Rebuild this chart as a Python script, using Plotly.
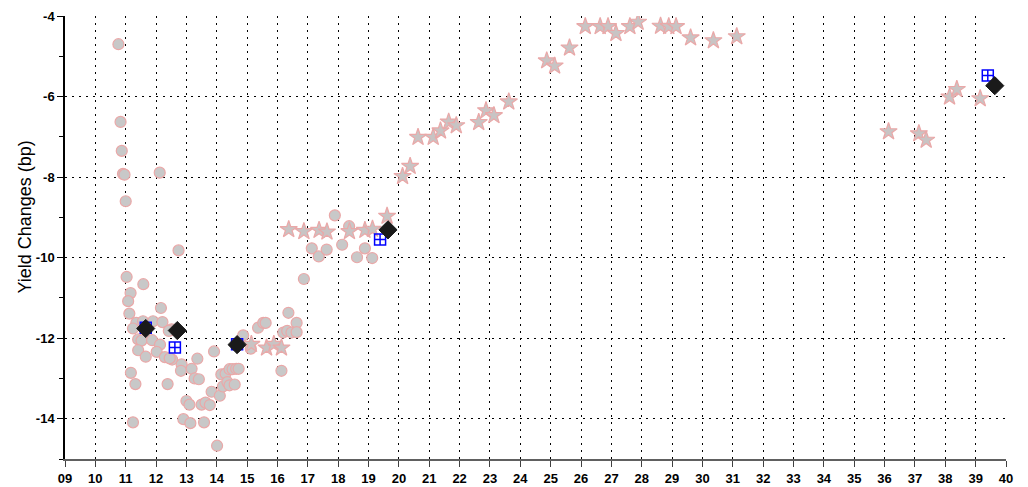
import plotly.graph_objects as go

# ---- data ----
circle_x = [10.76, 10.83, 10.87, 10.91, 10.96, 12.12, 11.00, 11.03, 11.58, 11.16,
            11.08, 12.16, 11.12, 11.35, 11.24, 11.57, 11.90, 12.21, 12.51, 12.42,
            11.41, 11.52, 11.87, 12.13, 11.41, 11.66, 12.02, 12.29, 12.53, 12.45,
            12.84, 13.17, 12.82, 13.36, 13.91, 11.17, 11.32, 12.38, 13.27, 13.41,
            13.00, 13.10, 13.50, 13.63, 13.77, 13.83, 14.10, 14.15, 14.29, 14.42,
            14.52, 14.64, 14.72, 14.20, 14.35, 14.42, 14.59, 11.24, 12.90, 13.13,
            13.58, 14.01, 15.36, 15.53, 15.12, 14.87, 15.61, 16.87, 16.36, 16.63,
            16.19, 16.32, 16.46, 16.63, 16.13, 17.89, 18.36, 17.13, 17.36, 17.62,
            18.13, 18.88, 18.62, 19.12, 12.74]
circle_y = [-4.70, -6.63, -7.35, -7.92, -7.94, -7.89, -8.60, -10.48, -10.66, -10.88,
            -11.08, -11.25, -11.39, -11.62, -11.76, -11.58, -11.58, -11.60, -11.78, -11.82,
            -12.03, -12.06, -12.05, -12.16, -12.30, -12.46, -12.34, -12.47, -12.53, -12.50,
            -12.65, -12.76, -12.81, -12.51, -12.33, -12.86, -13.14, -13.14, -13.00, -13.02,
            -13.56, -13.65, -13.65, -13.60, -13.66, -13.33, -13.43, -12.90, -12.88, -12.77,
            -12.77, -12.76, -12.76, -13.20, -13.09, -13.17, -13.15, -14.09, -14.01, -14.11,
            -14.09, -14.67, -11.74, -11.62, -12.26, -11.93, -11.62, -10.53, -11.37, -11.62,
            -11.86, -11.82, -11.86, -11.85, -12.81, -8.95, -9.22, -9.77, -9.97, -9.80,
            -9.68, -9.77, -9.99, -10.01, -9.82]

star_x = [15.14, 15.64, 15.88, 16.13,
          16.37, 16.87, 17.37, 17.63, 18.37, 18.88, 19.13, 19.61,
          20.12, 20.37, 20.63, 21.13, 21.37, 21.64, 21.89, 22.63, 22.87, 23.13, 23.62,
          24.87, 25.13, 25.62, 26.14, 26.63, 26.89, 27.15, 27.61, 27.88, 28.62, 28.89,
          29.13, 29.61, 30.36, 31.13,
          36.13, 37.13, 37.37, 38.14, 38.38, 39.15]
star_y = [-12.15, -12.24, -12.15, -12.24,
          -9.30, -9.35, -9.32, -9.36, -9.35, -9.32, -9.29, -8.97,
          -7.98, -7.73, -7.01, -7.01, -6.85, -6.63, -6.72, -6.64, -6.35, -6.47, -6.13,
          -5.11, -5.24, -4.79, -4.26, -4.26, -4.26, -4.43, -4.26, -4.15, -4.25, -4.26,
          -4.26, -4.54, -4.61, -4.51,
          -6.87, -6.92, -7.08, -6.01, -5.82, -6.05]

hash_x = [11.66, 12.62, 14.67, 19.38, 39.40]
hash_y = [-11.74, -12.23, -12.15, -9.55, -5.48]

diamond_x = [11.66, 12.70, 14.67, 19.64, 39.63]
diamond_y = [-11.76, -11.81, -12.16, -9.31, -5.73]

x_ticks = list(range(9, 41))
x_ticktext = ["%02d" % v for v in x_ticks]
y_ticks = [-14, -12, -10, -8, -6, -4]
y_title = "Yield Changes (bp)"

fig = go.Figure()
fig.add_trace(go.Scatter(
    x=circle_x, y=circle_y, mode="markers", name="circles",
    marker=dict(symbol="circle", size=11, color="#c8c8c8",
                line=dict(color="#eaa8a8", width=1.2))))
fig.add_trace(go.Scatter(
    x=star_x, y=star_y, mode="markers", name="stars",
    marker=dict(symbol="star", size=13, color="#c8c4c4",
                line=dict(color="#eaa8a8", width=1.2))))
fig.add_trace(go.Scatter(
    x=hash_x, y=hash_y, mode="markers", name="hash",
    marker=dict(symbol="square-cross-open", size=11, color="#0000ff",
                line=dict(color="#0000ff", width=1.5))))
fig.add_trace(go.Scatter(
    x=diamond_x, y=diamond_y, mode="markers", name="diamonds",
    marker=dict(symbol="diamond", size=14, color="#1a1a1a",
                line=dict(color="#1a1a1a", width=1))))

fig.update_layout(
    width=1020, height=479,
    margin=dict(l=57, r=22, t=8, b=28, autoexpand=False),
    paper_bgcolor="white", plot_bgcolor="white",
    showlegend=False,
    font=dict(family="Arial, Liberation Sans, sans-serif", color="black"),
    annotations=[dict(
        text=y_title, textangle=-90, showarrow=False,
        xref="paper", yref="paper", x=0, y=0.545,
        xanchor="center", yanchor="middle", xshift=-40,
        font=dict(size=18, color="black"))],
)
fig.update_xaxes(
    range=[9, 40], tickvals=x_ticks, ticktext=x_ticktext,
    ticks="outside", ticklen=6, tickcolor="#404040", tickwidth=1,
    tickfont=dict(size=13, weight="bold"),
    showline=True, linecolor="#606060", linewidth=2,
    showgrid=True, gridcolor="black", gridwidth=1, griddash="1.5px,5.5px",
    zeroline=False, automargin=False,
)
fig.update_yaxes(
    range=[-15, -4], tickvals=y_ticks, ticktext=[str(v) for v in y_ticks],
    ticks="outside", ticklen=6, tickcolor="black", tickwidth=1,
    tickfont=dict(size=13, weight="bold"),
    minor=dict(dtick=1, tick0=-15, ticks="outside", ticklen=4, tickcolor="black", showgrid=False),
    showline=True, linecolor="black", linewidth=1.5,
    showgrid=True, gridcolor="black", gridwidth=1, griddash="2px,5px",
    zeroline=False, automargin=False,
)

fig.write_html("out.html")
